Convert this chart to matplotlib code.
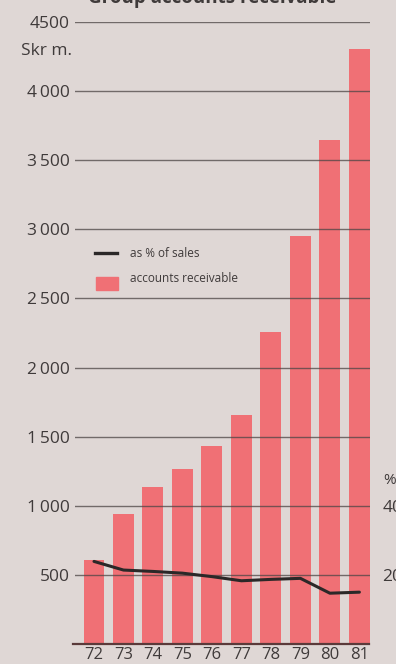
import matplotlib
matplotlib.use("Agg")
import matplotlib.pyplot as plt
import numpy as np

plt.rcParams['font.family'] = ['Open Sans', 'DejaVu Sans']

# Data
years = ["72", "73", "74", "75", "76", "77", "78", "79", "80", "81"]
receivables = [610, 940, 1135, 1265, 1430, 1658, 2260, 2955, 3648, 4305]   # Skr m.
pct_of_sales = [23.9, 21.4, 21.0, 20.5, 19.5, 18.3, 18.7, 19.0, 14.7, 15.0]  # %
left_ticks = [500, 1000, 1500, 2000, 2500, 3000, 3500, 4000, 4500]
left_tick_labels = ["500", "1\u2009000", "1\u2009500", "2\u2009000", "2\u2009500",
                    "3\u2009000", "3\u2009500", "4\u2009000", "4500"]
right_ticks = [20, 40]
right_tick_labels = ["20", "40"]

W, H = 396, 664
bg = "#dfd7d5"
bar_color = "#f07075"
grid_color = "#4d4645"
text_color = "#3f3a3a"

fig = plt.figure(figsize=(W / 100, H / 100), dpi=100, facecolor=bg)

x0, x1 = 75, 370
y_top, y_base = 22, 644
ax = fig.add_axes([x0 / W, (H - y_base) / H, (x1 - x0) / W, (y_base - y_top) / H])
ax.set_facecolor("none")

x = np.arange(len(years))
ax.bar(x, receivables, width=0.71, color=bar_color, zorder=2,
       label="accounts receivable")
ax.set_xlim(-0.644, 9.36)
ax.set_ylim(0, 4500)

for v in left_ticks:
    ax.axhline(v, color=grid_color, lw=1.0, alpha=0.75, zorder=3)
ax.axhline(0, xmin=-0.007, xmax=0.995, color="#5a3a3a", lw=1.6, zorder=4, clip_on=False)

for s in ax.spines.values():
    s.set_visible(False)

ax.set_yticks(left_ticks)
ax.set_yticklabels(left_tick_labels)
ax.tick_params(axis="y", length=0, pad=4, labelsize=12.5, labelcolor=text_color)
ax.set_xticks(x)
ax.set_xticklabels(years)
ax.tick_params(axis="x", length=0, pad=2, labelsize=12, labelcolor=text_color)

# Percentage line on the right-hand scale
ax2 = ax.twinx()
ax2.set_ylim(0, 180)
line, = ax2.plot(x, pct_of_sales, color="#2b2828", lw=2.2, zorder=5,
                 solid_capstyle="round", label="as % of sales")
for s in ax2.spines.values():
    s.set_visible(False)
ax2.set_yticks(right_ticks)
ax2.set_yticklabels(right_tick_labels)
ax2.tick_params(axis="y", length=0, pad=9, labelsize=12.5, labelcolor=text_color)

# Unit labels
fig.text(72 / W, 1 - 51 / H, "Skr m.", ha="right", va="center",
         fontsize=12.5, color=text_color)
fig.text(383 / W, 1 - 480 / H, "%", ha="left", va="center",
         fontsize=11, color=text_color)

# Title, cut by the top edge
fig.text(212 / W, 1 - 3 / H, "Group accounts receivable", ha="center",
         va="baseline", fontsize=13.5, fontweight="bold", color=text_color)

# Legend
fig.add_artist(plt.Line2D([95 / W, 117 / W], [1 - 253 / H, 1 - 253 / H],
                          color="#2b2828", lw=2.4, transform=fig.transFigure))
fig.add_artist(plt.Rectangle((96 / W, 1 - 290 / H), 22 / W, 13 / H,
                             color=bar_color, transform=fig.transFigure))
fig.text(130 / W, 1 - 253 / H, "as % of sales", ha="left", va="center",
         fontsize=8.5, color=text_color)
fig.text(130 / W, 1 - 278 / H, "accounts receivable", ha="left", va="center",
         fontsize=8.5, color=text_color)

fig.savefig("out.png", dpi=100, facecolor=bg)
